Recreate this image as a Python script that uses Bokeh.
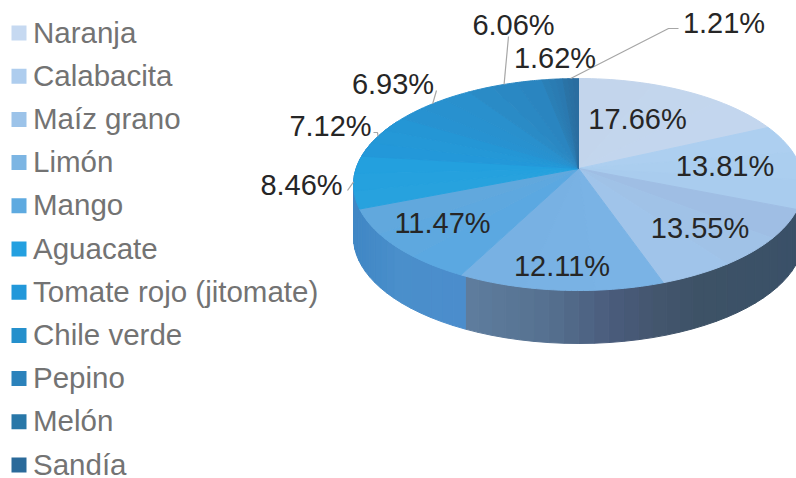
import math
from bokeh.plotting import figure
from bokeh.core.properties import value
from bokeh.embed import file_html
from bokeh.resources import INLINE

# ---- data ----
categories = ["Naranja", "Calabacita", "Maíz grano", "Limón", "Mango", "Aguacate",
              "Tomate rojo (jitomate)", "Chile verde", "Pepino", "Melón", "Sandía"]
shares = [17.66, 13.81, 13.55, 12.11, 11.47, 8.46, 7.12, 6.93, 6.06, 1.62, 1.21]
share_labels = ["17.66%", "13.81%", "13.55%", "12.11%", "11.47%", "8.46%",
                "7.12%", "6.93%", "6.06%", "1.62%", "1.21%"]

# ---- styling / layout ----
legend_colors = ["#c6d9f1", "#aecdee", "#9cc3e9", "#7cb5e3", "#5eaae0", "#24a0e0",
                 "#2298da", "#2590cc", "#2b82bb", "#2877a8", "#2a6a9a"]
face_from = ["#c3d5ec", "#aed0f0", "#9fbde2", "#7ab4e6", "#5aa8e2", "#28a2de",
             "#2399da", "#2692d2", "#2a8cc8", "#2a80b8", "#2a74a8"]
face_to = ["#c3d6ee", "#a8cbee", "#a0c6ec", "#78b0e2", "#62a8dc", "#22a0de",
           "#2496d4", "#2a90cc", "#2a84be", "#2a78ae", "#2a6c9e"]
wall_stops = [(350, "#3f86c4"), (400, "#4a8fcb"), (461, "#4b8dcc"), (462, "#5f7d9f"),
              (550, "#55708f"), (610, "#4a5c7c"), (655, "#44566e"), (700, "#3d5266"),
              (800, "#3a5068")]

CX, CY, RX, RY = 578.0, 184.0, 225.0, 106.0   # top ellipse
AX, AY = 578.0, 168.0                         # apex of the slices
DIRY = 98.0
DEPTH = 53.0

label_pos = [(637, 118), (724.5, 165), (699.5, 227), (561.5, 265), (442, 222), (301, 184),
             (330, 125), (392.5, 83), (513, 24), (554.5, 57), (723.5, 22)]
leader_end = {5: (347, 190), 6: (377, 132), 7: (436, 90), 8: (508, 36), 10: (668, 28)}
leader_elbow = {10: (678, 28), 6: (373, 132)}


def rim(theta):
    dx, dy = RX * math.sin(theta), -DIRY * math.cos(theta)
    ox, oy = (AX - CX) / RX, (AY - CY) / RY
    ux, uy = dx / RX, dy / RY
    a = ux * ux + uy * uy
    b = 2 * (ox * ux + oy * uy)
    c = ox * ox + oy * oy - 1
    t = (-b + math.sqrt(b * b - 4 * a * c)) / (2 * a)
    return AX + t * dx, AY + t * dy


def hex2rgb(h):
    return tuple(int(h[i:i + 2], 16) for i in (1, 3, 5))


def mix(c1, c2, f):
    a, b = hex2rgb(c1), hex2rgb(c2)
    return "#%02x%02x%02x" % tuple(round(a[i] + (b[i] - a[i]) * f) for i in range(3))


def wall_color(x):
    for (x0, c0), (x1, c1) in zip(wall_stops, wall_stops[1:]):
        if x <= x1:
            return mix(c0, c1, max(0, (x - x0) / (x1 - x0)))
    return wall_stops[-1][1]


p = figure(width=796, height=478, x_range=(0, 796), y_range=(478, 0),
           output_backend="svg", toolbar_location=None, min_border=0,
           outline_line_color=None)
p.axis.visible = False
p.grid.visible = False
p.background_fill_color = "white"
p.border_fill_color = "white"

total = sum(shares)
bounds = [0.0]
for v in shares:
    bounds.append(bounds[-1] + v / total * 2 * math.pi)

# side wall
wx, wy, wc = [], [], []
N = 70
for i in range(N):
    t0 = math.pi / 2 + i / N * math.pi * 1.2 - 0.1
    t1 = math.pi / 2 + (i + 1) / N * math.pi * 1.2 - 0.1
    x0, y0 = rim(t0)
    x1, y1 = rim(t1)
    wx.append([x0, x1, x1, x0])
    wy.append([y0, y1, y1 + DEPTH, y0 + DEPTH])
    wc.append(wall_color((x0 + x1) / 2))
p.patches(wx, wy, fill_color=wc, line_color=wc, line_width=1)

# top face
fx, fy, fc = [], [], []
for k in range(len(shares)):
    steps = 3
    for s in range(steps):
        t0 = bounds[k] + (bounds[k + 1] - bounds[k]) * s / steps
        t1 = bounds[k] + (bounds[k + 1] - bounds[k]) * (s + 1) / steps
        pts = [rim(t0 + (t1 - t0) * j / 12) for j in range(13)]
        fx.append([AX] + [q[0] for q in pts])
        fy.append([AY] + [q[1] for q in pts])
        fc.append(mix(face_from[k], face_to[k], (s + 0.5) / steps))
p.patches(fx, fy, fill_color=fc, line_color=fc, line_width=1)

# leader lines
for k, end in leader_end.items():
    sx, sy = rim((bounds[k] + bounds[k + 1]) / 2)
    xs, ys = [sx, end[0]], [sy, end[1]]
    if k in leader_elbow:
        xs.append(leader_elbow[k][0])
        ys.append(leader_elbow[k][1])
    p.line(xs, ys, line_color="#a6a6a6", line_width=1.2)

# legend
for i, name in enumerate(categories):
    row_y = 32.5 + i * 43.2
    p.scatter([18.5], [row_y], marker="square", size=15, fill_color=legend_colors[i], line_color=None)
    p.text([32.5], [row_y - 1], text=[name], text_font=value("Liberation Sans"), text_font_size="29.5px",
           text_color="#737373", text_baseline="middle", text_align="left")

# data labels
p.text([q[0] for q in label_pos], [q[1] for q in label_pos], text=share_labels,
       text_font=value("Liberation Sans"), text_font_size="29px", text_color="#262626",
       text_baseline="middle", text_align="center")

open("out.html", "w").write(file_html(p, INLINE))
